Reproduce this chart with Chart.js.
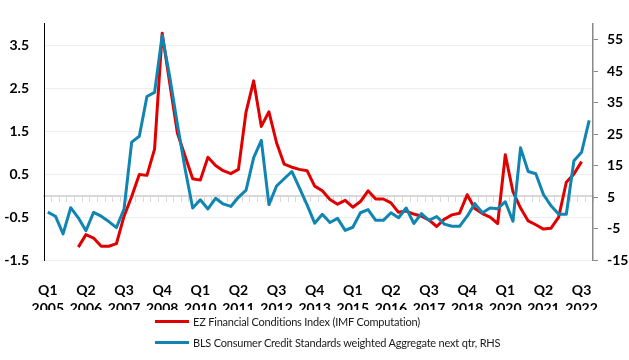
<!DOCTYPE html>
<html>
<head>
<meta charset="utf-8">
<script src="https://cdn.jsdelivr.net/npm/chart.js@4.4.1/dist/chart.umd.min.js"></script>
<style>
  html, body { margin: 0; padding: 0; background: #fff; }
  #wrap { position: relative; width: 629px; height: 360px; }
  #legend { position: absolute; left: 155px; top: 311px; font: 11px Lato, sans-serif; letter-spacing: -0.2px; color: #1a1a1a; }
  .item { display: flex; align-items: center; height: 21px; }
  .swatch { display: inline-block; width: 34px; height: 3px; margin-right: 4px; }
</style>
</head>
<body>
<div id="wrap">
  <canvas id="chart" width="629" height="360"></canvas>
  <div id="legend">
    <div class="item"><span class="swatch" style="background:#e00000"></span>EZ Financial Conditions Index (IMF Computation)</div>
    <div class="item"><span class="swatch" style="background:#1185b1"></span>BLS Consumer Credit Standards weighted Aggregate next qtr, RHS</div>
  </div>
</div>
<script>
// Quarters 2005 Q1 .. 2022 Q4
const quarters = [];
for (let y = 2005; y <= 2022; y++) {
  for (let q = 1; q <= 4; q++) quarters.push(["Q" + q, String(y)]);
}

// EZ FCI (left axis), starts Q1 2006, ends Q3 2022
const ezFci = [
  null, null, null, null, -1.20, -0.91, -0.99, -1.18, -1.18, -1.12,
  -0.48, -0.02, 0.49, 0.47, 1.08, 3.78, 2.60, 1.45, 0.92, 0.39,
  0.36, 0.89, 0.70, 0.58, 0.51, 0.61, 1.95, 2.67, 1.61, 1.95,
  1.23, 0.73, 0.66, 0.61, 0.58, 0.22, 0.11, -0.09, -0.20, -0.11,
  -0.27, -0.14, 0.11, -0.08, -0.08, -0.17, -0.39, -0.36, -0.43, -0.48,
  -0.57, -0.72, -0.55, -0.45, -0.41, 0.02, -0.30, -0.42, -0.50, -0.65,
  0.95, 0.09, -0.29, -0.59, -0.68, -0.78, -0.76, -0.50, 0.31, 0.50,
  0.79, null
];

// BLS consumer credit standards (right axis)
const blsCredit = [
  0.2, -1.1, -6.7, 1.6, -1.6, -5.7, 0.1, -1.1, -2.8, -4.7,
  1.2, 22.4, 24.3, 36.9, 38.2, 56.3, 43.0, 28.0, 14.0, 1.5,
  4.1, 1.2, 4.6, 2.8, 2.0, 4.9, 7.2, 17.5, 23.0, 2.6,
  8.5, 10.8, 13.1, 7.9, 2.5, -3.3, -0.5, -3.1, -1.8, -5.6,
  -4.6, 0.0, 1.0, -2.4, -2.4, 0.0, -1.6, 1.5, -3.4, -0.3,
  -2.4, -1.2, -3.6, -4.3, -4.3, -1.1, 2.9, 0.0, 1.5, 1.3,
  3.5, -2.7, 20.6, 13.1, 12.4, 5.8, 2.2, -0.5, -0.5, 16.5,
  19.2, 29.3
];

const leftTicks = [-1.5, -0.5, 0.5, 1.5, 2.5, 3.5];
const rightTicks = [-15, -5, 5, 15, 25, 35, 45, 55];

Chart.defaults.font.family = "Lato, sans-serif";
Chart.defaults.color = "#000";

const tickFont = { size: 14, weight: "bold", lineHeight: 1.25 };

new Chart(document.getElementById("chart"), {
  type: "line",
  data: {
    labels: quarters,
    datasets: [
      {
        label: "EZ Financial Conditions Index (IMF Computation)",
        data: ezFci,
        yAxisID: "y",
        order: 1,
        borderColor: "#e00000",
        borderWidth: 3,
        pointRadius: 0,
        tension: 0,
        borderJoinStyle: "round"
      },
      {
        label: "BLS Consumer Credit Standards weighted Aggregate next qtr, RHS",
        data: blsCredit,
        yAxisID: "y2",
        order: 0,
        borderColor: "#1185b1",
        borderWidth: 3,
        pointRadius: 0,
        tension: 0,
        borderJoinStyle: "round"
      }
    ]
  },
  options: {
    responsive: false,
    animation: false,
    layout: { padding: { top: 18, left: 0, right: 0, bottom: 50 } },
    plugins: { legend: { display: false }, tooltip: { enabled: false } },
    scales: {
      x: {
        type: "category",
        position: "bottom",
        offset: true,
        grid: { display: false },
        border: { display: false },
        ticks: {
          autoSkip: false,
          maxRotation: 0,
          padding: 14,
          font: tickFont,
          callback: function (v, i) { return i % 5 === 0 ? this.getLabelForValue(v) : ""; }
        },
        afterFit: s => { s.height = 50; }
      },
      x2: {
        type: "category",
        position: { y: 0 },
        offset: true,
        grid: { display: true, drawOnChartArea: false, drawTicks: true, tickLength: 5, color: "#d9d9d9", lineWidth: 1, offset: true },
        border: { display: true, color: "#d9d9d9", width: 2 },
        ticks: { display: false, autoSkip: false }
      },
      y: {
        position: "left",
        min: -1.5,
        max: 4,
        afterBuildTicks: s => { s.ticks = leftTicks.map(v => ({ value: v })); },
        grid: { color: "#eeeeee", drawTicks: false },
        border: { display: true, color: "#000", width: 1 },
        ticks: { padding: 15, font: tickFont },
        afterFit: s => { s.width = 44; }
      },
      y2: {
        position: "right",
        min: -15,
        max: 60,
        afterBuildTicks: s => { s.ticks = rightTicks.map(v => ({ value: v })); },
        grid: { drawOnChartArea: false, drawTicks: true, tickLength: 5, color: "#888" },
        border: { display: true, color: "#888", width: 1.5 },
        ticks: { padding: 9, font: tickFont },
        afterFit: s => { s.width = 36; }
      }
    }
  }
});
</script>
</body>
</html>
